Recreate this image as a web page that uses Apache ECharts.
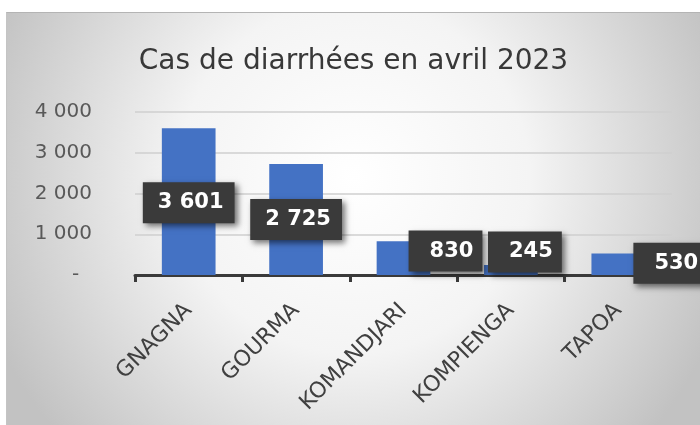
<!DOCTYPE html>
<html>
<head>
<meta charset="utf-8">
<script src="https://cdn.jsdelivr.net/npm/echarts@6/dist/echarts.min.js"></script>
<style>
  html, body { margin: 0; padding: 0; background: #fff; }
  #chart {
    position: absolute; left: 6px; top: 12px;
    width: 693px; height: 412px;
    border-top: 1px solid #b4b4b4; border-left: 1px solid #c4c4c4;
  }
</style>
</head>
<body>
<div id="chart"></div>
<script>
const titleText = 'Cas de diarrhées en avril 2023'
const categories = ['GNAGNA', 'GOURMA', 'KOMANDJARI', 'KOMPIENGA', 'TAPOA']
const cases = [3601, 2725, 830, 245, 530]
// where Excel left each label (offset from the bar centre)
const labelOffsets = [[0, 1], [0, 0], [42, -7], [14, -18], [52, -1]]

const fmt = v => v === 0 ? '-  ' : String(v).replace(/\B(?=(\d{3})+(?!\d))/g, ' ')

const myChart = echarts.init(document.getElementById('chart'))
myChart.setOption({
  backgroundColor: new echarts.graphic.RadialGradient(0.5, 0.4, 0.95, [
    { offset: 0, color: '#ffffff' },
    { offset: 0.45, color: '#f4f4f4' },
    { offset: 1, color: '#c2c2c2' },
  ]),
  title: {
    text: titleText,
    left: 'center',
    top: 30,
    textStyle: {
      fontFamily: 'DejaVu Sans',
      fontSize: 28,
      fontWeight: 'normal',
      color: '#383838',
    },
  },
  grid: { left: 128, right: 28, top: 99, bottom: 150 },
  xAxis: {
    type: 'category',
    data: categories,
    axisLine: { lineStyle: { color: '#3a3a3a', width: 3 } },
    axisTick: { show: true, alignWithLabel: false, length: 7, lineStyle: { color: '#3a3a3a', width: 3 } },
    axisLabel: {
      rotate: 45,
      margin: 32,
      fontFamily: 'DejaVu Sans',
      fontSize: 22,
      color: '#404040',
    },
  },
  yAxis: {
    type: 'value',
    min: 0,
    max: 4000,
    interval: 1000,
    axisLine: { show: false },
    axisTick: { show: false },
    splitLine: { lineStyle: { color: '#cfcfcf', width: 1.5 } },
    axisLabel: {
      margin: 43,
      fontFamily: 'DejaVu Sans',
      fontSize: 20,
      color: '#595959',
      formatter: fmt,
    },
  },
  series: [
    {
      type: 'bar',
      data: cases.map((v, i) => ({
        value: v,
        label: {
          offset: labelOffsets[i],
          padding: v >= 1000 ? [10, 11, 10, 15] : [10, 9, 10, 21],
        },
      })),
      barCategoryGap: '50%',
      itemStyle: { color: '#4472C4' },
      label: {
        show: true,
        position: 'inside',
        formatter: p => fmt(p.value),
        fontFamily: 'DejaVu Sans',
        fontWeight: 'bold',
        fontSize: 21,
        color: '#ffffff',
        backgroundColor: '#3a3a3a',
        shadowColor: 'rgba(0,0,0,0.55)',
        shadowBlur: 6,
        shadowOffsetX: 3,
        shadowOffsetY: 3,
      },
    },
  ],
})
</script>
</body>
</html>
